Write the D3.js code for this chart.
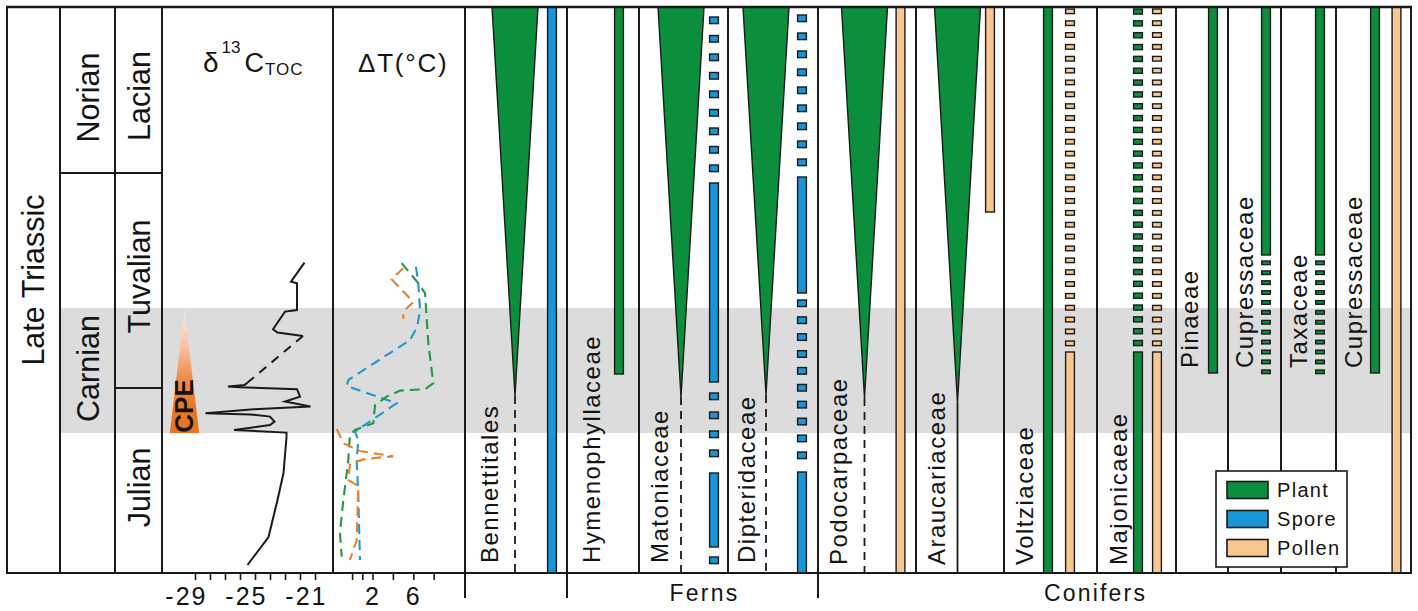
<!DOCTYPE html>
<html><head><meta charset="utf-8">
<script src="https://cdn.jsdelivr.net/npm/d3@7"></script>
<style>
body{margin:0;background:#fff}
svg{display:block}
text{font-family:"Liberation Sans",Arial,Helvetica,sans-serif;fill:#141414}
</style>
</head><body>
<svg id="chart" width="1418" height="611"></svg>
<script>
// ================= DATA =================
// vertical axis: relative stratigraphic height (0 = base, 283 = top)
const periodName = "Late Triassic";
const stageNames = ["Norian", "Carnian"];
const stageTop = [283, 200];
const stageBase = [200, 0];
const substageNames = ["Lacian", "Tuvalian", "Julian"];
const substageTop = [283, 200, 92.5];
const substageBase = [200, 92.5, 0];
const cpeInterval = [70, 132.5];              // grey band (Carnian Pluvial Episode)
const cpeWedge = {apex: 131.5, base: 70, center: -29.7, half: 0.98};

// δ13C TOC (‰)
const d13cUpperH = [155.2, 145.7, 144.9, 131.5, 130.7, 121.9, 120.2, 118.5];
const d13cUpperV = [-21.7, -22.6, -22.2, -22.2, -23.0, -23.8, -23.5, -21.8];
const d13cGapH = [118.5, 95.2];
const d13cGapV = [-21.8, -25.5];
const d13cLowerH = [95.2, 94, 93.2, 92.9, 91.9, 88.2, 85.7, 83.2, 81.9, 79.9, 79.3, 78.2, 75.7, 74, 71.5, 70.2, 68, 50, 36.5, 18, 4];
const d13cLowerV = [-25.5, -25.7, -26.8, -26.0, -22.2, -22.0, -23.0, -21.3, -25.1, -28.3, -25.3, -24.0, -23.7, -24.0, -26.4, -22.9, -22.9, -23.1, -23.5, -24.1, -25.5];
const d13cTicks = [-29, -28, -27, -26, -25, -24, -23, -22, -21];
const d13cTickLabels = [-29, -25, -21];

// ΔT (°C)
const dtBlueH = [153.2, 144.9, 131.5, 123.2, 116.5, 96.5, 93.5, 84.9, 70.7, 66.5, 56.5, 38, 6.5];
const dtBlueV = [6.26, 6.49, 6.66, 6.39, 5.68, -0.37, -0.53, 4.37, 0.28, 0.61, 0.45, 0.61, 0.77];
const dtGreenH = [154.9, 144.9, 139.9, 115, 94.9, 91.9, 91.2, 88.2, 84, 74.9, 71.5, 69, 56.5, 36.5, 20, 8.2];
const dtGreenV = [4.86, 6.49, 7.15, 7.47, 7.96, 7.15, 4.70, 3.39, 2.25, 2.08, 0.28, -0.21, -0.37, -0.86, -1.19, -1.02];
const dtOrangeUpperH = [152.4, 146.9, 135.5, 130.7, 127];
const dtOrangeUpperV = [5.02, 3.88, 6.0, 5.02, 5.02];
const dtOrangeLowerH = [72, 64.9, 61, 58.3, 57.8, 56.8, 54.5, 46.5, 43.5, 16.5, 6.5];
const dtOrangeLowerV = [-1.51, -0.86, 0.77, 4.04, 2.74, 1.10, -0.21, -0.37, 0.61, 0.45, -0.21];
const dtTicks = [0, 1, 2, 4, 6, 8];
const dtTickLabels = [2, 6];

// taxa
const taxa = ["Bennettitales", "Hymenophyllaceae", "Matoniaceae", "Dipteridaceae",
  "Podocarpaceae", "Araucariaceae", "Voltziaceae", "Majonicaeae",
  "Pinaeae", "Cupressaceae", "Taxaceae", "Cupressaceae"];
const groupNames = ["", "Ferns", "Conifers"];
const groupFirst = [0, 1, 4];
const groupLast = [0, 3, 11];
// records: [kind, top, base, count]
const plantRecord = [
  [["taper", 283, 88.5], ["dashed", 88.5, 0]],
  [["solid", 283, 99.5]],
  [["taper", 283, 88], ["dashed", 88, 0]],
  [["taper", 283, 89], ["dashed", 89, 0]],
  [["taper", 283, 87.5], ["dashed", 87.5, 0]],
  [["taper", 283, 85], ["line", 85, 0]],
  [["solid", 283, 0]],
  [["dotted", 282, 113, 29], ["solid", 110.5, 0]],
  [["solid", 283, 100]],
  [["solid", 283, 159], ["dotted", 156, 99, 12]],
  [["solid", 283, 159], ["dotted", 156, 99, 12]],
  [["solid", 283, 100]]
];
const grainType = ["Spore", null, "Spore", "Spore", "Pollen", "Pollen", "Pollen", "Pollen", null, null, null, "Pollen"];
const grainRecord = [
  [["solid", 283, 0]],
  [],
  [["dotted", 278, 200, 9], ["solid", 195, 95.5], ["dotted", 90, 57.5, 4], ["solid", 50, 13], ["dotted", 8, 4, 1]],
  [["dotted", 279, 203, 9], ["solid", 198, 140], ["dotted", 136.5, 56.5, 10], ["solid", 50.5, 0]],
  [["solid", 283, 0]],
  [["solid", 283, 180.5]],
  [["dotted", 282, 113, 29], ["solid", 110.5, 0]],
  [["dotted", 282, 113, 29], ["solid", 110.5, 0]],
  [], [], [],
  [["solid", 283, 0]]
];
const legendItems = ["Plant", "Spore", "Pollen"];

// ================= LAYOUT / STYLE =================
const W = 1418, H = 611;
const TOP = 7, BOT = 573, LEFT = 7, RIGHT = 1411;
const colors = {Plant: "#0b8f3d", Spore: "#1996d8", Pollen: "#f7c790",
  band: "#dcdcdc", dtBlue: "#2297d6", dtGreen: "#1f9a44", dtOrange: "#e8832a", ink: "#1a1a1a"};
const stratCols = [LEFT, 60, 115, 162, 333, 465];
const colEdges = [465, 567, 639, 728, 818, 916, 1004, 1097, 1176, 1228, 1281, 1336, 1411];
const plantOffset = [52, 20, 47, 52, 51.5, 46.5, 49, 38, 15, 15, 16, 36];
const grainOffset = [15, null, 14, 16, 15.5, 14, 27, 19, null, null, null, 14.5];
const labelInset = [33, 33, 29, 27, 29, 29, 29, 30, 22, 25, 26, 26];
const labelBottom = [563, 563, 563, 563, 565, 565, 565, 565, 368, 368, 368, 368];

const y = d3.scaleLinear().domain([0, 283]).range([BOT, TOP]);
const xD = d3.scaleLinear().domain([-29, -21]).range([195, 315]);
const xT = d3.scaleLinear().domain([2, 6]).range([372.5, 413.3]);

const svg = d3.select("#chart");
svg.append("rect").attr("width", W).attr("height", H).attr("fill", "#fff");

// grey band
svg.append("rect")
  .attr("x", stratCols[1]).attr("y", y(cpeInterval[1]))
  .attr("width", RIGHT - stratCols[1]).attr("height", y(cpeInterval[0]) - y(cpeInterval[1]))
  .attr("fill", colors.band);

// CPE wedge
const defs = svg.append("defs");
const grad = defs.append("linearGradient").attr("id", "cpeGrad")
  .attr("x1", 0).attr("y1", 0).attr("x2", 0).attr("y2", 1);
[[0, "#fdebe3"], [0.3, "#f8bfa1"], [0.55, "#f08d4e"], [0.75, "#eb7828"], [1, "#e8731d"]]
  .forEach(([o, c]) => grad.append("stop").attr("offset", o).attr("stop-color", c));
svg.append("polygon")
  .attr("points", [[xD(cpeWedge.center - cpeWedge.half), y(cpeWedge.base)],
    [xD(cpeWedge.center + cpeWedge.half), y(cpeWedge.base)],
    [xD(cpeWedge.center), y(cpeWedge.apex)]].map(p => p.join(",")).join(" "))
  .attr("fill", "url(#cpeGrad)");
svg.append("text")
  .attr("transform", `translate(${xD(cpeWedge.center) - 1},${y(83.5)}) rotate(-90)`)
  .attr("text-anchor", "middle").attr("dominant-baseline", "central")
  .style("font-size", "26px").style("font-weight", "bold").text("CPE");

// δ13C curve
const lineD = d3.line().x(d => xD(d[1])).y(d => y(d[0]));
svg.append("path").datum(d3.zip(d13cUpperH, d13cUpperV)).attr("d", lineD)
  .attr("fill", "none").attr("stroke", colors.ink).attr("stroke-width", 2);
svg.append("path").datum(d3.zip(d13cGapH, d13cGapV)).attr("d", lineD)
  .attr("fill", "none").attr("stroke", colors.ink).attr("stroke-width", 2).attr("stroke-dasharray", "9,7");
svg.append("path").datum(d3.zip(d13cLowerH, d13cLowerV)).attr("d", lineD)
  .attr("fill", "none").attr("stroke", colors.ink).attr("stroke-width", 2).attr("stroke-linejoin", "miter");

// ΔT curves
const lineT = d3.line().x(d => xT(d[1])).y(d => y(d[0]));
[[dtBlueH, dtBlueV, colors.dtBlue], [dtGreenH, dtGreenV, colors.dtGreen],
 [dtOrangeUpperH, dtOrangeUpperV, colors.dtOrange], [dtOrangeLowerH, dtOrangeLowerV, colors.dtOrange]]
  .forEach(([hs, vs, c]) => svg.append("path").datum(d3.zip(hs, vs)).attr("d", lineT)
    .attr("fill", "none").attr("stroke", c).attr("stroke-width", 2.1).attr("stroke-dasharray", "10,6"));

// ---- taxa marks ----
function dottedYs(top, base, n, h) {
  const y0 = y(top), y1 = y(base);
  if (n === 1) return [(y0 + y1) / 2 - h / 2];
  return d3.range(n).map(i => y0 + i * (y1 - y0 - h) / (n - 1));
}
function drawRecord(g, rec, cx, color, dotH, dotW) {
  rec.forEach(([kind, top, base, n]) => {
    if (kind === "taper") {
      g.append("polygon")
        .attr("points", [[cx - 23, y(top)], [cx + 23, y(top)], [cx, y(base)]].map(p => p.join(",")).join(" "))
        .attr("fill", color).attr("stroke", colors.ink).attr("stroke-width", 1.4).attr("stroke-linejoin", "miter");
    } else if (kind === "solid") {
      g.append("rect").attr("x", cx - 4.4).attr("y", y(top)).attr("width", 8.8)
        .attr("height", y(base) - y(top)).attr("fill", color)
        .attr("stroke", colors.ink).attr("stroke-width", 1.4);
    } else if (kind === "dotted") {
      g.selectAll(null).data(dottedYs(top, base, n, dotH)).enter().append("rect")
        .attr("x", cx - dotW / 2).attr("y", d => d).attr("width", dotW).attr("height", dotH - 1.4)
        .attr("fill", color).attr("stroke", colors.ink).attr("stroke-width", 1.4);
    } else {
      g.append("line").attr("x1", cx).attr("x2", cx).attr("y1", y(top)).attr("y2", y(base))
        .attr("stroke", colors.ink).attr("stroke-width", 1.8)
        .attr("stroke-dasharray", kind === "dashed" ? "8,6" : null);
    }
  });
}
const gTaxa = svg.append("g");
taxa.forEach((name, i) => {
  const right = colEdges[i + 1];
  const small = plantRecord[i].some(r => r[0] === "dotted" && r[3] === 12);
  drawRecord(gTaxa, plantRecord[i], right - plantOffset[i], colors.Plant, small ? 5 : 6.5, small ? 8.5 : 8.8);
  if (grainType[i]) {
    const isSpore = grainType[i] === "Spore";
    drawRecord(gTaxa, grainRecord[i], right - grainOffset[i], colors[grainType[i]], isSpore ? 8 : 6, 8.8);
  }
});

// ---- grid lines & frame ----
const gl = svg.append("g").attr("stroke", colors.ink).attr("stroke-width", 2).attr("fill", "none");
stratCols.concat(colEdges.slice(1)).forEach(x => gl.append("line")
  .attr("x1", x).attr("x2", x).attr("y1", TOP).attr("y2", BOT));
// stage boundaries
gl.append("line").attr("x1", stratCols[1]).attr("x2", stratCols[3]).attr("y1", y(stageBase[0])).attr("y2", y(stageBase[0]));
gl.append("line").attr("x1", stratCols[2]).attr("x2", stratCols[3]).attr("y1", y(substageBase[1])).attr("y2", y(substageBase[1]));
gl.append("line").attr("x1", LEFT - 1).attr("x2", RIGHT + 1).attr("y1", TOP).attr("y2", TOP).attr("stroke-width", 2.4);
gl.append("line").attr("x1", LEFT - 1).attr("x2", RIGHT + 1).attr("y1", BOT).attr("y2", BOT).attr("stroke-width", 2.2);
// group separators below frame
[colEdges[0], colEdges[groupFirst[1]], colEdges[groupFirst[2]]].forEach(x =>
  gl.append("line").attr("x1", x).attr("x2", x).attr("y1", BOT).attr("y2", 598));

// ---- axes ----
const axD = svg.append("g").attr("transform", `translate(0,${BOT})`)
  .call(d3.axisBottom(xD).tickValues(d13cTicks).tickSize(7).tickFormat(d => d13cTickLabels.includes(d) ? String(d) : ""));
const axT = svg.append("g").attr("transform", `translate(0,${BOT})`)
  .call(d3.axisBottom(xT).tickValues(dtTicks).tickSize(7).tickFormat(d => dtTickLabels.includes(d) ? String(d) : ""));
[axD, axT].forEach(ax => {
  ax.select(".domain").remove();
  ax.selectAll(".tick line").attr("stroke", colors.ink).attr("stroke-width", 1.6);
  ax.selectAll(".tick text").attr("y", 32).attr("dy", null)
    .style("font-size", "25px").style("letter-spacing", "2px").attr("fill", "#141414")
    .style("font-family", '"Liberation Sans",Arial,sans-serif');
});
axD.selectAll(".tick text").attr("text-anchor", "end").attr("x", 12);

// ---- stratigraphy labels ----
function vlabel(x, yy, txt, size) {
  svg.append("text").attr("transform", `translate(${x},${yy}) rotate(-90)`)
    .attr("text-anchor", "middle").attr("dominant-baseline", "central")
    .style("font-size", size + "px").text(txt);
}
vlabel(33, 280, periodName, 30.5);
const stageLabelY = [97.5, 368.5];
const substageLabelY = [96, 276.5, 487.5];
stageNames.forEach((s, i) => vlabel(87.5, stageLabelY[i], s, 30.5));
substageNames.forEach((s, i) => vlabel(138.5, substageLabelY[i], s, 30.5));

// column headers
const hd = svg.append("text").attr("x", 203).attr("y", 72).style("font-size", "28px");
hd.append("tspan").text("δ");
hd.append("tspan").attr("dx", 3).attr("dy", -19).style("font-size", "17px").text("13");
hd.append("tspan").attr("dx", 4).attr("dy", 19).style("font-size", "27px").text("C");
hd.append("tspan").attr("dx", 1).attr("dy", 3).style("font-size", "17px").style("letter-spacing", "1px").text("TOC");
svg.append("text").attr("x", 358).attr("y", 72).style("font-size", "26px").style("letter-spacing", "1.8px").text("ΔT(°C)");

// taxa labels
taxa.forEach((name, i) => {
  svg.append("text")
    .attr("transform", `translate(${colEdges[i] + labelInset[i]},${labelBottom[i]}) rotate(-90)`)
    .attr("text-anchor", "start").style("font-size", "24px").style("letter-spacing", "1.5px").text(name);
});
// group labels
const groupShift = [0, 12, -19];
groupNames.forEach((g, i) => {
  if (!g) return;
  const mid = (colEdges[groupFirst[i]] + colEdges[groupLast[i] + 1]) / 2 + groupShift[i];
  svg.append("text").attr("x", mid).attr("y", 601).attr("text-anchor", "middle")
    .style("font-size", "23px").style("letter-spacing", "2.2px").text(g);
});

// legend
const lg = svg.append("g").attr("transform", "translate(1216,471)");
lg.append("rect").attr("width", 131).attr("height", 96).attr("fill", "#fff")
  .attr("stroke", colors.ink).attr("stroke-width", 1.6);
legendItems.forEach((k, i) => {
  lg.append("rect").attr("x", 11).attr("y", 10.5 + i * 29).attr("width", 41).attr("height", 17)
    .attr("fill", colors[k]).attr("stroke", colors.ink).attr("stroke-width", 1.6);
  lg.append("text").attr("x", 61).attr("y", 26 + i * 29).style("font-size", "20px")
    .style("letter-spacing", "1.3px").text(k);
});
</script>
</body></html>
